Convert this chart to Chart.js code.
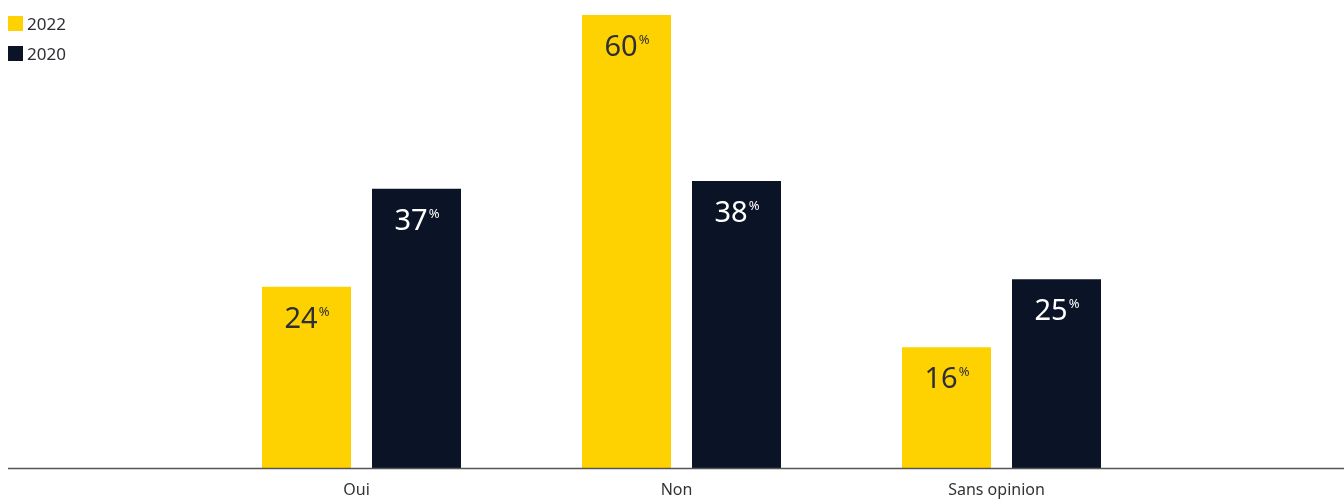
<!DOCTYPE html>
<html>
<head>
<meta charset="utf-8">
<script src="https://cdn.jsdelivr.net/npm/chart.js@4"></script>
<style>
  html, body { margin: 0; padding: 0; background: #fff; }
  #wrap { position: relative; width: 1344px; height: 499px; }
  #legend { position: absolute; left: 8px; top: 8px; font-family: "Noto Sans", sans-serif; font-size: 17px; color: #2e2e38; }
  #legend div { display: flex; align-items: center; height: 30px; }
  #legend span.sw { display: inline-block; width: 15px; height: 15px; margin-right: 4px; }
</style>
</head>
<body>
<div id="wrap">
  <canvas id="chart" width="1344" height="499"></canvas>
  <div id="legend"></div>
</div>
<script>
const categories = ['Oui', 'Non', 'Sans opinion'];
const series2022 = [24, 60, 16];
const series2020 = [37, 38, 25];
const seriesNames = ['2022', '2020'];
const barColors = ['#fed200', '#0a1426'];
const labelColors = ['#2e2e38', '#ffffff'];

const legend = document.getElementById('legend');
seriesNames.forEach((name, i) => {
  const row = document.createElement('div');
  row.innerHTML = '<span class="sw" style="background:' + barColors[i] + '"></span>' + name;
  legend.appendChild(row);
});

// big number + small "%" inside the top of each bar
const valueLabels = {
  id: 'valueLabels',
  afterDatasetsDraw(chart) {
    const ctx = chart.ctx;
    chart.data.datasets.forEach((ds, di) => {
      chart.getDatasetMeta(di).data.forEach((bar, i) => {
        const num = String(ds.data[i]);
        ctx.save();
        ctx.fillStyle = labelColors[di];
        ctx.textBaseline = 'alphabetic';
        ctx.font = '29px "Noto Sans", sans-serif';
        const w1 = ctx.measureText(num).width;
        ctx.font = '13px "Noto Sans", sans-serif';
        const w2 = ctx.measureText('%').width;
        const x0 = bar.x - (w1 + w2) / 2;
        const base = bar.y + 41;
        ctx.font = '29px "Noto Sans", sans-serif';
        ctx.textAlign = 'left';
        ctx.fillText(num, x0, base);
        ctx.font = '13px "Noto Sans", sans-serif';
        ctx.fillText('%', x0 + w1 + 1, base - 12);
        ctx.restore();
      });
    });
  }
};

// axis line across the whole width + category names under it
const baseAxis = {
  id: 'baseAxis',
  afterDatasetsDraw(chart) {
    const ctx = chart.ctx;
    const xs = chart.scales.x;
    const y = chart.chartArea.bottom + 0.5;
    ctx.save();
    ctx.strokeStyle = '#555555';
    ctx.lineWidth = 1.5;
    ctx.beginPath();
    ctx.moveTo(8, y);
    ctx.lineTo(chart.width, y);
    ctx.stroke();
    ctx.fillStyle = '#333333';
    ctx.font = '16px "Noto Sans", sans-serif';
    ctx.textAlign = 'center';
    ctx.textBaseline = 'middle';
    chart.data.labels.forEach((lab, i) => {
      ctx.fillText(lab, xs.getPixelForValue(i) - 5, y + 22);
    });
    ctx.restore();
  }
};

new Chart(document.getElementById('chart'), {
  type: 'bar',
  data: {
    labels: categories,
    datasets: [
      { label: seriesNames[0], data: series2022, backgroundColor: barColors[0] },
      { label: seriesNames[1], data: series2020, backgroundColor: barColors[1] }
    ]
  },
  options: {
    responsive: false,
    animation: false,
    layout: { padding: { left: 201.5, right: 182.5, top: 15, bottom: 31 } },
    datasets: { bar: { categoryPercentage: 0.6875, barPercentage: 0.809 } },
    plugins: { legend: { display: false }, tooltip: { enabled: false } },
    scales: {
      x: { display: false, offset: true },
      y: { display: false, min: 0, max: 60 }
    }
  },
  plugins: [valueLabels, baseAxis]
});
</script>
</body>
</html>
